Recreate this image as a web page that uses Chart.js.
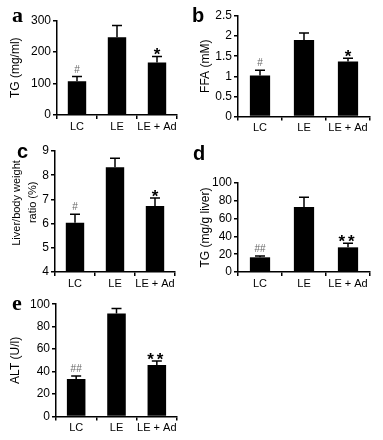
<!DOCTYPE html>
<html>
<head>
<meta charset="utf-8">
<script src="https://cdn.jsdelivr.net/npm/chart.js@4/dist/chart.umd.min.js"></script>
<style>
  html, body { margin: 0; padding: 0; background: #fff; }
  #wrap { position: relative; width: 383px; height: 440px; }
  .panel { position: absolute; }
</style>
</head>
<body>
<div id="wrap">
  <div class="panel" style="left:0;top:0;width:190px;height:140px"><canvas id="chartA"></canvas></div>
  <div class="panel" style="left:190px;top:0;width:193px;height:140px"><canvas id="chartB"></canvas></div>
  <div class="panel" style="left:0;top:140px;width:190px;height:155px"><canvas id="chartC"></canvas></div>
  <div class="panel" style="left:190px;top:140px;width:193px;height:155px"><canvas id="chartD"></canvas></div>
  <div class="panel" style="left:0;top:295px;width:190px;height:145px"><canvas id="chartE"></canvas></div>
</div>
<script>
const categories = ["LC", "LE", "LE + Ad"];

const plasmaTG = [107, 247, 167];
const plasmaTGErr = [15, 37, 19];
const plasmaFFA = [1.02, 1.9, 1.37];
const plasmaFFAErr = [0.13, 0.18, 0.08];
const liverRatio = [6.03, 8.33, 6.73];
const liverRatioErr = [0.36, 0.37, 0.33];
const liverTG = [16.5, 73, 27.7];
const liverTGErr = [1.5, 11, 4.5];
const serumALT = [33.4, 91.7, 45.9];
const serumALTErr = [2.6, 4.5, 3.5];

const marksSingle = ["#", "", "*"];
const marksDouble = ["##", "", "**"];

const SANS = "'Liberation Sans', Arial, sans-serif";
const SERIF = "'Liberation Serif', 'Times New Roman', serif";

// error bars (upper only) + significance marks, positioned from the y scale
const errorBars = {
  id: "errorBars",
  afterDatasetsDraw(chart) {
    const ctx = chart.ctx;
    const ds = chart.data.datasets[0];
    const yScale = chart.scales.y;
    chart.getDatasetMeta(0).data.forEach((bar, i) => {
      const capY = yScale.getPixelForValue(ds.data[i] + ds.errors[i]);
      ctx.save();
      ctx.strokeStyle = "#000";
      ctx.lineWidth = 1.5;
      ctx.beginPath();
      ctx.moveTo(bar.x, bar.y);
      ctx.lineTo(bar.x, capY);
      ctx.moveTo(bar.x - 5, capY);
      ctx.lineTo(bar.x + 5, capY);
      ctx.stroke();
      const mark = ds.marks[i];
      if (mark) {
        ctx.textAlign = "center";
        ctx.textBaseline = "alphabetic";
        if (mark.startsWith("#")) {
          ctx.fillStyle = "#666";
          ctx.font = "10px " + SANS;
          ctx.letterSpacing = "0px";
          ctx.fillText(mark, bar.x, capY - 4);
        } else {
          ctx.fillStyle = "#000";
          ctx.font = "bold 17px " + SANS;
          ctx.letterSpacing = mark.length > 1 ? "3px" : "0px";
          ctx.fillText(mark, bar.x, capY + 4);
        }
      }
      ctx.restore();
    });
  }
};

const panelLetter = (text, x, y, font) => ({
  id: "panelLetter",
  afterDraw(chart) {
    const ctx = chart.ctx;
    ctx.save();
    ctx.fillStyle = "#000";
    ctx.font = font;
    ctx.textAlign = "left";
    ctx.textBaseline = "alphabetic";
    ctx.fillText(text, x, y);
    ctx.restore();
  }
});

const makePanel = (canvasId, p) => {
  new Chart(document.getElementById(canvasId), {
    type: "bar",
    data: {
      labels: categories,
      datasets: [{
        data: p.values,
        errors: p.errors,
        marks: p.marks,
        backgroundColor: "#000",
        borderWidth: 0,
        barPercentage: 0.46,
        categoryPercentage: 1
      }]
    },
    options: {
      responsive: true,
      maintainAspectRatio: false,
      animation: false,
      events: [],
      layout: { padding: { left: 0, right: p.padRight, top: p.padTop, bottom: 0 } },
      plugins: { legend: { display: false }, tooltip: { enabled: false } },
      scales: {
        x: {
          afterFit: (s) => { s.height = p.xHeight; },
          border: { display: true, color: "#000", width: 1.5 },
          grid: { display: true, drawOnChartArea: false, drawTicks: true, tickLength: 4, offset: true, color: "#000", lineWidth: 1.5 },
          ticks: { color: "#000", padding: 1, autoSkip: false, minRotation: 0, maxRotation: 0, font: { family: SANS, size: 11 } }
        },
        y: {
          min: p.min,
          max: p.max,
          afterFit: (s) => { s.width = p.yWidth; },
          border: { display: true, color: "#000", width: 1.5 },
          grid: { display: true, drawOnChartArea: false, drawTicks: true, tickLength: 4, color: "#000", lineWidth: 1.5 },
          ticks: {
            stepSize: p.step, color: "#000", padding: 2, font: { family: SANS, size: 12 },
            callback: (v) => String(Number(v.toFixed(2)))
          },
          title: {
            display: true,
            text: p.title,
            color: "#000",
            align: p.titleAlign || "center",
            padding: { top: p.titlePad, bottom: 0 },
            font: { family: SANS, size: p.titleSize || 12, lineHeight: p.titleLine || 1.2 }
          }
        }
      }
    },
    plugins: [errorBars, panelLetter(p.letter, p.letterX, p.letterY, p.letterFont)]
  });
};

makePanel("chartA", {
  values: plasmaTG, errors: plasmaTGErr, marks: marksSingle,
  min: 0, max: 300, step: 100, title: "TG (mg/ml)", titlePad: 8,
  yWidth: 57, padRight: 13, padTop: 20.5, xHeight: 25,
  letter: "a", letterX: 12, letterY: 22, letterFont: "bold 22px " + SERIF
});

makePanel("chartB", {
  values: plasmaFFA, errors: plasmaFFAErr, marks: marksSingle,
  min: 0, max: 2.5, step: 0.5, title: "FFA (mM)", titlePad: 8,
  yWidth: 48, padRight: 13, padTop: 16, xHeight: 23.5,
  letter: "b", letterX: 2, letterY: 22, letterFont: "bold 20px " + SANS
});

makePanel("chartC", {
  values: liverRatio, errors: liverRatioErr, marks: marksSingle,
  min: 4, max: 9, step: 1, title: ["Liver/body weight   ", "ratio (%)          "], titlePad: 9,
  titleAlign: "end", titleLine: "16px", titleSize: 11,
  yWidth: 55, padRight: 15, padTop: 11, xHeight: 23,
  letter: "c", letterX: 17, letterY: 18, letterFont: "bold 20px " + SANS
});

makePanel("chartD", {
  values: liverTG, errors: liverTGErr, marks: marksDouble,
  min: 0, max: 100, step: 20, title: "TG (mg/g liver)", titlePad: 8,
  yWidth: 48, padRight: 13, padTop: 43, xHeight: 23,
  letter: "d", letterX: 3, letterY: 20, letterFont: "bold 20px " + SANS
});

makePanel("chartE", {
  values: serumALT, errors: serumALTErr, marks: marksDouble,
  min: 0, max: 100, step: 20, title: "ALT (U/l)", titlePad: 8,
  yWidth: 56, padRight: 13, padTop: 9, xHeight: 23.5,
  letter: "e", letterX: 12, letterY: 15, letterFont: "bold 22px " + SERIF
});
</script>
</body>
</html>
